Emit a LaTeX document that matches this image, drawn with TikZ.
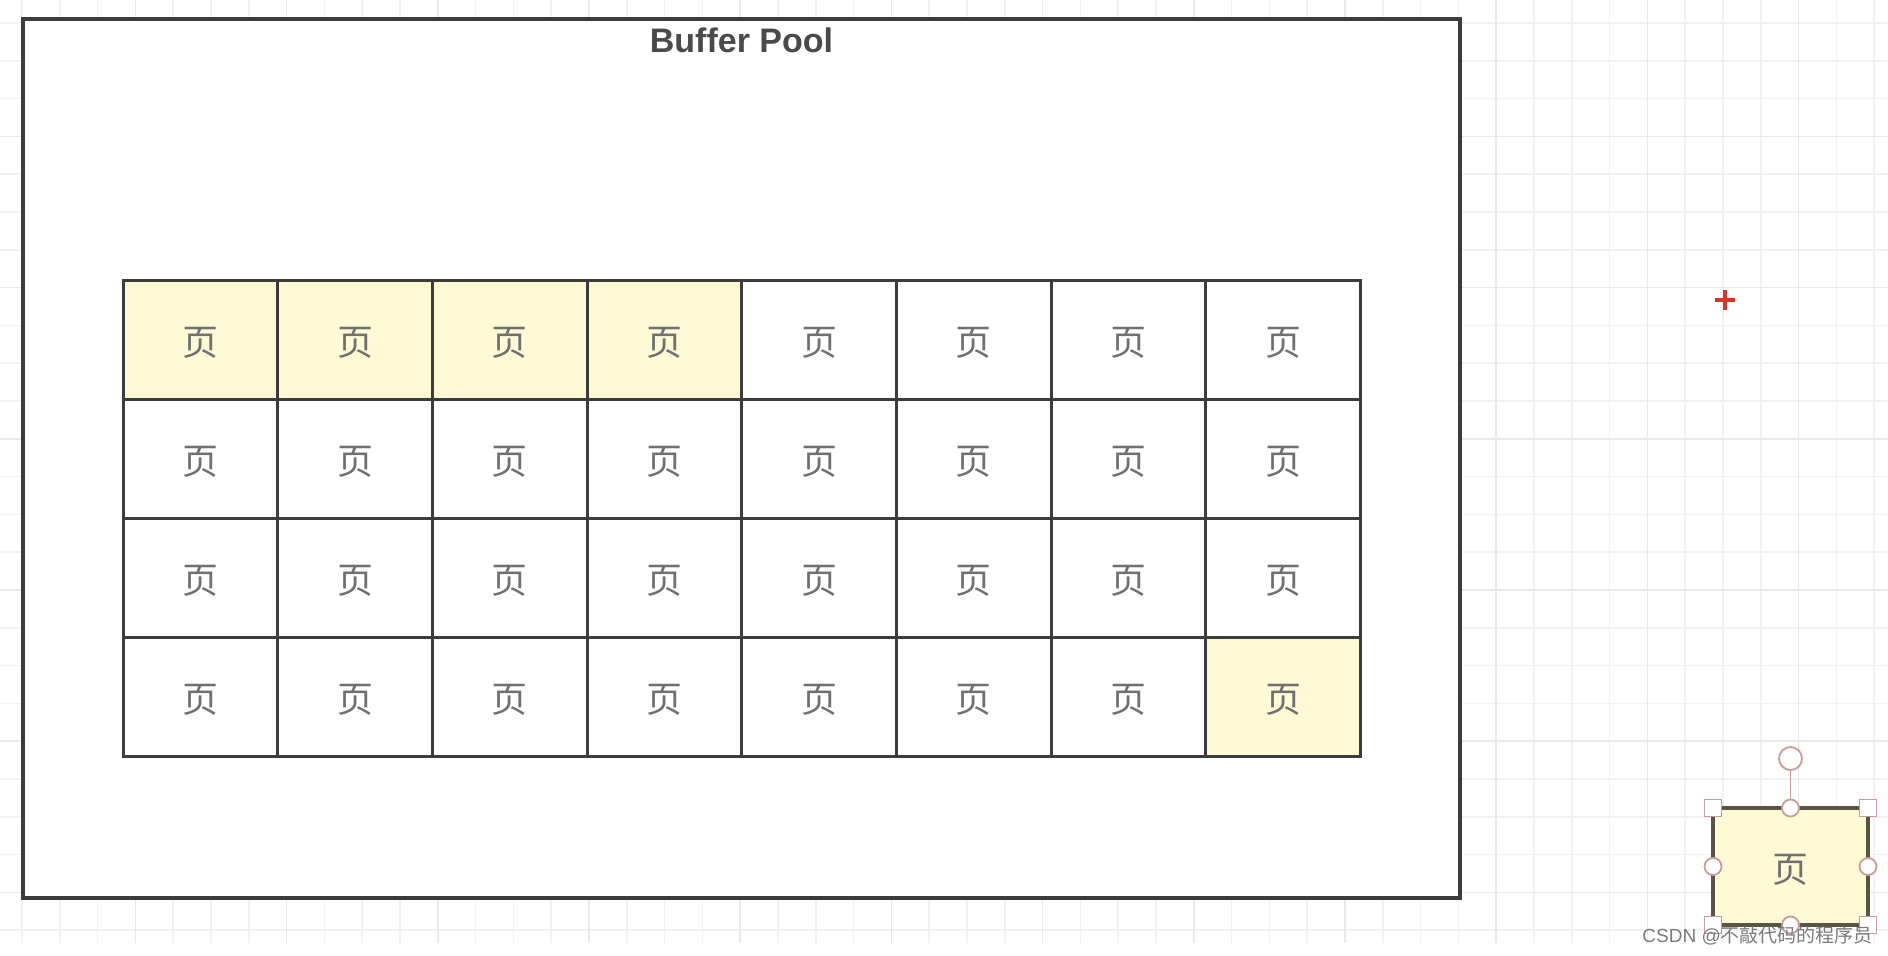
\documentclass[tikz,border=0pt]{standalone}
\usepackage{fontspec}
\setmainfont{Liberation Sans}
\newfontfamily\cjk{Noto Sans CJK SC}
\usetikzlibrary{positioning}

\definecolor{linegray}{HTML}{3C3C3C}
\definecolor{titlegray}{HTML}{4A4A4A}
\definecolor{pagegray}{HTML}{707070}
\definecolor{pageyellow}{HTML}{FEFAD6}
\definecolor{gridminor}{HTML}{F2F2F2}
\definecolor{gridmajor}{HTML}{E9E9E9}
\definecolor{handlepink}{HTML}{C79C9C}
\definecolor{boxbrown}{HTML}{5A5444}
\definecolor{plusred}{HTML}{D8352A}
\definecolor{markgray}{HTML}{7A7A7A}

\begin{document}
\begin{tikzpicture}[x=1pt,y=-1pt,
	cellbox/.style={draw=linegray, line width=3pt, minimum width=154.7pt, minimum height=118.9pt, inner sep=0pt, outer sep=0pt, text height=32pt, text depth=0pt, text=pagegray, font=\cjk\fontsize{36}{36}\selectfont},
	handle/.style={draw=handlepink, fill=white, line width=1.8pt, inner sep=0pt}]

	\useasboundingbox (0,0) rectangle (1888,956);

	% Background grid
	\foreach \k in {0,...,49}
		\draw [gridminor, line width=1.6pt] (22+37.8*\k,0) -- (22+37.8*\k,943);
	\foreach \k in {0,...,24}
		\draw [gridminor, line width=1.6pt] (0,23+37.8*\k) -- (1888,23+37.8*\k);
	\foreach \k in {3,7,...,47}
		\draw [gridmajor, line width=1.6pt] (22+37.8*\k,0) -- (22+37.8*\k,943);
	\foreach \k in {3,7,...,23}
		\draw [gridmajor, line width=1.6pt] (0,23+37.8*\k) -- (1888,23+37.8*\k);

	% Buffer pool
	\node [draw=linegray, line width=4pt, fill=white, minimum width=1437pt, minimum height=879pt, inner sep=0pt] (pool) at (741.5,458.5) {};
	\node [anchor=base, text=titlegray, font=\bfseries\fontsize{34}{40}\selectfont] (title) at (741.5,52) {Buffer Pool};

	% Pages
	\foreach \r in {1,...,4}
		\foreach \c in {1,...,8} {
			\def\cellfill{white}
			\ifnum\r\c<15 \def\cellfill{pageyellow}\fi
			\ifnum\r\c=48 \def\cellfill{pageyellow}\fi
			\node [cellbox, fill=\cellfill] (p\r\c) at (123+154.7*\c-77.35, 280.5+118.9*\r-59.45) {页};
		}

	% Red cursor
	\draw [plusred, line width=4pt] (1715,300) -- (1735,300);
	\draw [plusred, line width=4pt] (1725,290) -- (1725,310);

	% Selected new page
	\node [cellbox, draw=boxbrown, line width=4pt, fill=pageyellow, minimum width=155pt, minimum height=117pt] (newpage) at (1790.5,866.5) {页};
	\node [handle, circle, minimum size=23pt] (rot) at (1790.5,758.5) {};
	\draw [handlepink, line width=1.8pt] (rot) -- (newpage.north);
	\node [handle, minimum size=17pt] (hnw) at (newpage.north west) {};
	\node [handle, minimum size=17pt] (hne) at (newpage.north east) {};
	\node [handle, minimum size=17pt] (hsw) at (newpage.south west) {};
	\node [handle, minimum size=17pt] (hse) at (newpage.south east) {};
	\node [handle, circle, minimum size=17pt] (hn) at (newpage.north) {};
	\node [handle, circle, minimum size=17pt] (hs) at (newpage.south) {};
	\node [handle, circle, minimum size=17pt] (hw) at (newpage.west) {};
	\node [handle, circle, minimum size=17pt] (he) at (newpage.east) {};

	% Watermark
	\node [anchor=east, inner sep=0pt, text=markgray, font=\fontsize{19}{20}\selectfont] (mark) at (1873,936) {CSDN @{\cjk 不敲代码的程序员}};

\end{tikzpicture}
\end{document}
